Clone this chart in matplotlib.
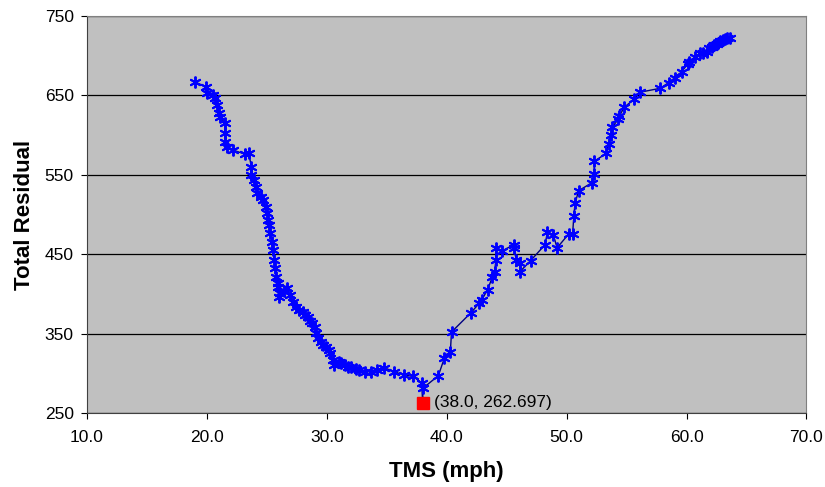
import matplotlib.pyplot as plt

plt.rcParams['font.family'] = ['Liberation Sans', 'DejaVu Sans']

tms = [19.0, 19.9, 20.0, 20.5, 20.7, 20.8, 21.0, 21.1, 21.5, 21.5, 21.5, 21.7,
       22.2, 23.2, 23.5, 23.7, 23.7, 23.9, 24.1, 24.2, 24.5, 24.7, 24.9, 25.0,
       25.1, 25.2, 25.3, 25.4, 25.5, 25.6, 25.7, 25.8, 25.9, 25.9, 26.0, 26.1,
       26.4, 26.7, 26.9, 27.2, 27.4, 27.7, 28.0, 28.2, 28.4, 28.6, 28.8, 29.0,
       29.1, 29.3, 29.5, 29.7, 29.9, 30.2, 30.3, 30.5, 30.6, 31.0, 31.2, 31.5,
       31.8, 32.0, 32.4, 32.7, 33.2, 33.7, 34.2, 34.8, 35.6, 36.4, 37.2, 37.9,
       38.0, 38.0, 39.3, 39.8, 40.3, 40.4, 42.0, 42.7, 42.9, 43.4, 43.8, 44.0,
       44.1, 44.1, 44.6, 45.6, 45.6, 45.8, 46.1, 46.1, 47.0, 48.2, 48.4, 48.9,
       49.2, 50.2, 50.5, 50.6, 50.7, 51.0, 52.1, 52.3, 52.3, 53.3, 53.5, 53.7,
       53.8, 54.3, 54.4, 54.8, 55.6, 56.1, 57.8, 58.5, 59.0, 59.6, 60.1, 60.2,
       60.7, 61.1, 61.4, 61.7, 61.9, 62.1, 62.3, 62.5, 62.6, 62.8, 63.0, 63.2,
       63.4, 63.6]
residual = [667, 661, 653, 650, 647, 638, 628, 623, 615, 603, 591, 585,
            581, 576, 577, 560, 550, 543, 535, 527, 522, 518, 509, 502,
            493, 487, 477, 465, 455, 443, 433, 421, 414, 409, 396, 401,
            404, 407, 398, 390, 383, 380, 377, 373, 371, 366, 363, 358,
            351, 345, 340, 336, 333, 329, 326, 317, 310, 314, 313, 310,
            308, 308, 305, 304, 302, 302, 304, 307, 302, 298, 296, 288,
            263, 281, 297, 319, 327, 352, 376, 388, 392, 405, 421, 428,
            443, 458, 454, 462, 458, 443, 439, 428, 442, 462, 478, 474,
            458, 476, 476, 498, 514, 530, 540, 551, 567, 577, 589, 600,
            610, 620, 624, 635, 645, 654, 659, 666, 672, 680, 690, 692,
            698, 703, 704, 705, 710, 711, 713, 715, 716, 718, 720, 721,
            722, 723]

best_tms = 38.0
best_residual = 262.697

fig = plt.figure(figsize=(8.25, 4.87), dpi=100)
ax = fig.add_axes([0.1055, 0.152, 0.872, 0.815])
ax.set_facecolor('#C0C0C0')

ax.plot(tms, residual, color='#000080', lw=1.0, marker=(6, 2, 0), ms=8.5,
        mec='#0000FF', mew=1.4, zorder=3)
ax.plot([best_tms], [best_residual], marker='s', ms=8, color='#FF0000',
        ls='none', zorder=4)
ax.annotate('(%.1f, %.3f)' % (best_tms, best_residual), (best_tms, best_residual),
            xytext=(8, 0), textcoords='offset points', va='center', ha='left',
            fontsize=12.5, color='black', zorder=5)

ax.set_xlim(10, 70)
ax.set_ylim(250, 750)
ax.set_xticks(range(10, 71, 10))
ax.set_xticklabels(['%.1f' % v for v in range(10, 71, 10)])
ax.set_yticks(range(250, 751, 100))
ax.tick_params(labelsize=12.5, length=4.5, width=0.8, colors='black', direction='out')
ax.tick_params(axis='x', pad=8)
ax.tick_params(axis='y', pad=5)
ax.grid(axis='y', color='black', lw=0.9)
ax.set_axisbelow(True)

for s in ['top', 'right']:
    ax.spines[s].set_color('#808080')
for s in ['left', 'bottom']:
    ax.spines[s].set_color('#404040')

ax.set_xlabel('TMS (mph)', fontsize=16, fontweight='bold', labelpad=11)
ax.set_ylabel('Total Residual', fontsize=16, fontweight='bold', labelpad=7)

fig.savefig('out.png', dpi=100)
